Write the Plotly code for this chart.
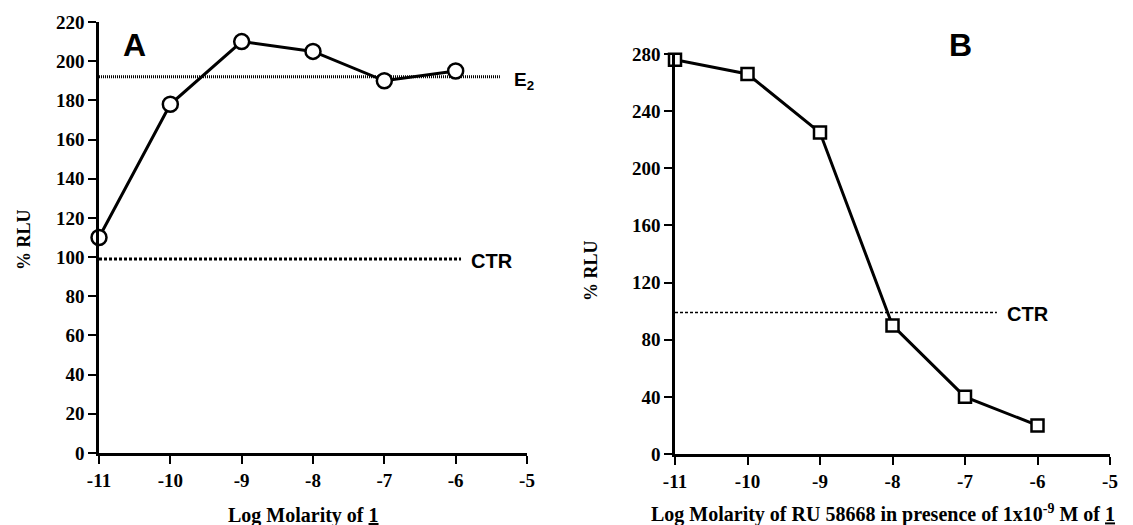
import plotly.graph_objects as go

# Panel A data
xa = [-11, -10, -9, -8, -7, -6]
ya = [110, 178, 210, 205, 190, 195]
e2_level = 192
ctr_level_a = 99

# Panel B data
xb = [-11, -10, -9, -8, -7, -6]
yb = [276, 266, 225, 90, 40, 20]
ctr_level_b = 99

xticks = [-11, -10, -9, -8, -7, -6, -5]
yticks_a = list(range(0, 221, 20))
yticks_b = list(range(0, 281, 40))

# page is offset by the 8px body margin
OFF = 8
W, H = 1125, 517


def px(x):
    return (x - OFF) / W


def py(y):
    return 1 - (y - OFF) / H


serif = "Liberation Serif"
sans = "Liberation Sans"

fig = go.Figure()

# reference lines A
fig.add_trace(go.Scatter(x=[-11, -5.38], y=[e2_level, e2_level], mode="lines",
                         line=dict(color="black", width=3, dash="1px,1px"),
                         xaxis="x", yaxis="y", showlegend=False, hoverinfo="skip"))
fig.add_trace(go.Scatter(x=[-11, -5.925], y=[ctr_level_a, ctr_level_a], mode="lines",
                         line=dict(color="black", width=3, dash="3px,2px"),
                         xaxis="x", yaxis="y", showlegend=False, hoverinfo="skip"))
fig.add_trace(go.Scatter(x=xa, y=ya, mode="lines+markers",
                         line=dict(color="black", width=3),
                         marker=dict(symbol="circle", size=15, color="white",
                                     line=dict(color="black", width=2.5)),
                         cliponaxis=False, xaxis="x", yaxis="y", showlegend=False))

# reference line B
fig.add_trace(go.Scatter(x=[-11, -6.56], y=[ctr_level_b, ctr_level_b], mode="lines",
                         line=dict(color="black", width=1.5, dash="3px,2px"),
                         xaxis="x2", yaxis="y2", showlegend=False, hoverinfo="skip"))
fig.add_trace(go.Scatter(x=xb, y=yb, mode="lines+markers",
                         line=dict(color="black", width=3),
                         marker=dict(symbol="square", size=12, color="white",
                                     line=dict(color="black", width=2.5)),
                         cliponaxis=False, xaxis="x2", yaxis="y2", showlegend=False))

tickfont = dict(family=serif, size=19, color="black", weight="bold")
axis_common = dict(showgrid=False, zeroline=False, showline=True, linecolor="black",
                   linewidth=2.5, ticks="outside", tickcolor="black", ticklen=8, tickwidth=1.5,
                   tickfont=tickfont, automargin=False)

fig.update_layout(
    width=W, height=H,
    margin=dict(l=0, r=0, t=0, b=0),
    paper_bgcolor="white", plot_bgcolor="white",
    xaxis=dict(domain=[px(99), px(527)], range=[-11, -5], tickvals=xticks,
               ticktext=[str(v) for v in xticks], anchor="y", **axis_common),
    yaxis=dict(domain=[py(453), py(22)], range=[0, 220], tickvals=yticks_a,
               anchor="x", **axis_common),
    xaxis2=dict(domain=[px(675), px(1110)], range=[-11, -5], tickvals=xticks,
                ticktext=[str(v) for v in xticks], anchor="y2", **axis_common),
    yaxis2=dict(domain=[py(454), py(54)], range=[0, 280], tickvals=yticks_b,
                anchor="x2", **axis_common),
)


def note(text, x, y, size, family, xanchor="center", angle=0):
    return dict(text=text, x=px(x), y=py(y), xref="paper", yref="paper",
                showarrow=False, xanchor=xanchor, yanchor="middle", textangle=angle,
                font=dict(family=family, size=size, color="black"))


ann = [
    note("<b>A</b>", 134, 45, 32, sans),
    note("<b>E<sub>2</sub></b>", 512, 81, 19, sans, xanchor="left"),
    note("<b>CTR</b>", 469, 261, 20, sans, xanchor="left"),
    note("<b>B</b>", 960, 45, 32, sans),
    note("<b>CTR</b>", 1005, 314, 20, sans, xanchor="left"),
    note("<b>Log Molarity of <u>1</u></b>", 303, 515, 20, serif),
    note("<b>Log Molarity of RU 58668 in presence of 1x10<sup>-9</sup> M of <u>1</u></b>",
         883, 513, 20, serif),
    note("<b>% RLU</b>", 24, 240, 18, serif, angle=-90),
    note("<b>% RLU</b>", 591, 271, 18, serif, angle=-90),
]
fig.update_layout(annotations=ann)

fig.write_html("out.html")
